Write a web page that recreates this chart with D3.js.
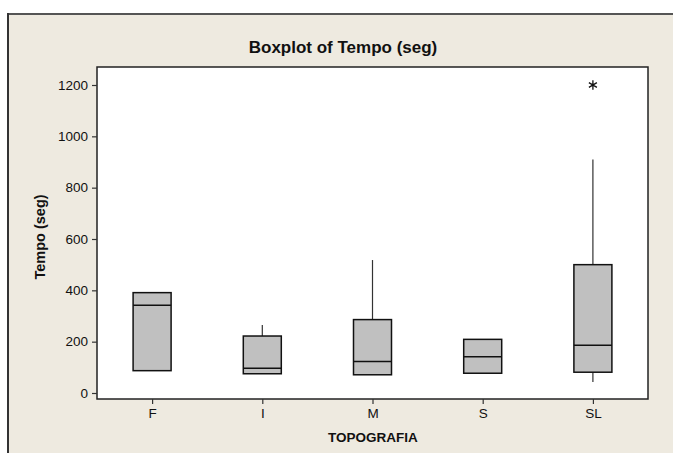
<!DOCTYPE html>
<html>
<head>
<meta charset="utf-8">
<script src="https://cdn.jsdelivr.net/npm/d3@7"></script>
<style>
  html, body { margin: 0; padding: 0; overflow: hidden; background: #fff; }
  svg { display: block; }
  text { font-family: Arial, "Liberation Sans", sans-serif; }
</style>
</head>
<body>
<svg id="chart" width="673" height="453"></svg>
<script>
// values
var categories = ['F', 'I', 'M', 'S', 'SL'];
var whiskerLow = [87, 75, 71, 77, 43];
var q1 = [87, 75, 71, 77, 81];
var medians = [342, 96, 123, 141, 186];
var q3 = [391, 222, 286, 209, 500];
var whiskerHigh = [391, 265, 518, 209, 910];
var outliers = [{ cat: 'SL', v: 1200 }];
var yTicks = [0, 200, 400, 600, 800, 1000, 1200];

var svg = d3.select('#chart');
var W = 673, H = 453;
var plot = { left: 97, right: 648, top: 67, bottom: 399 };

// outer frame (only top and left edges fall inside the picture)
svg.append('rect').attr('x', 0).attr('y', 0).attr('width', W).attr('height', H).attr('fill', '#fff');
svg.append('rect').attr('x', 8).attr('y', 14).attr('width', W - 8).attr('height', H - 14)
  .attr('fill', '#eeeae0');
svg.append('line').attr('x1', 7).attr('x2', W).attr('y1', 14).attr('y2', 14)
  .attr('stroke', '#555').attr('stroke-width', 2);
svg.append('line').attr('x1', 8).attr('x2', 8).attr('y1', 13).attr('y2', H)
  .attr('stroke', '#333').attr('stroke-width', 2);

// plot area
svg.append('rect').attr('x', plot.left).attr('y', plot.top)
  .attr('width', plot.right - plot.left).attr('height', plot.bottom - plot.top)
  .attr('fill', '#fff').attr('stroke', '#222').attr('stroke-width', 1.5);

var x = d3.scalePoint().domain(categories).range([plot.left, plot.right]).padding(0.5);
var y = d3.scaleLinear().domain([0, 1200]).range([393, 85]);

// axes
var yAxis = svg.append('g').attr('transform', 'translate(' + plot.left + ',0)')
  .call(d3.axisLeft(y).tickValues(yTicks).tickFormat(d3.format('d')).tickSize(5).tickPadding(4));
var xAxis = svg.append('g').attr('transform', 'translate(0,' + plot.bottom + ')')
  .call(d3.axisBottom(x).tickSize(5).tickPadding(4));
[yAxis, xAxis].forEach(function(a) {
  a.select('.domain').remove();
  a.selectAll('line').attr('stroke', '#333').attr('stroke-width', 1.2);
  a.selectAll('text').attr('fill', '#111').style('font-size', '13.5px');
});

// titles
svg.append('text').attr('x', 343).attr('y', 53).attr('text-anchor', 'middle')
  .style('font-size', '17px').style('font-weight', 'bold').attr('fill', '#111')
  .text('Boxplot of Tempo (seg)');
svg.append('text').attr('x', 373).attr('y', 442).attr('text-anchor', 'middle')
  .style('font-size', '13.5px').style('font-weight', 'bold').attr('fill', '#111')
  .text('TOPOGRAFIA');
svg.append('text').attr('transform', 'translate(45,237) rotate(-90)').attr('text-anchor', 'middle')
  .style('font-size', '14.5px').style('font-weight', 'bold').attr('fill', '#111')
  .text('Tempo (seg)');

// boxes
var boxW = 38;
var rows = categories.map(function(c, i) {
  return { c: c, lo: whiskerLow[i], q1: q1[i], med: medians[i], q3: q3[i], hi: whiskerHigh[i] };
});
var g = svg.append('g').selectAll('g').data(rows).enter().append('g');
g.append('line').attr('x1', function(d) { return x(d.c); }).attr('x2', function(d) { return x(d.c); })
  .attr('y1', function(d) { return y(d.q3); }).attr('y2', function(d) { return y(d.hi); })
  .attr('stroke', '#333').attr('stroke-width', 1.2);
g.append('line').attr('x1', function(d) { return x(d.c); }).attr('x2', function(d) { return x(d.c); })
  .attr('y1', function(d) { return y(d.q1); }).attr('y2', function(d) { return y(d.lo); })
  .attr('stroke', '#333').attr('stroke-width', 1.2);
g.append('rect').attr('x', function(d) { return x(d.c) - boxW / 2; })
  .attr('y', function(d) { return y(d.q3); })
  .attr('width', boxW)
  .attr('height', function(d) { return y(d.q1) - y(d.q3); })
  .attr('fill', '#c0c0c0').attr('stroke', '#111').attr('stroke-width', 1.5);
g.append('line').attr('x1', function(d) { return x(d.c) - boxW / 2; }).attr('x2', function(d) { return x(d.c) + boxW / 2; })
  .attr('y1', function(d) { return y(d.med); }).attr('y2', function(d) { return y(d.med); })
  .attr('stroke', '#111').attr('stroke-width', 1.5);

// outliers drawn as asterisks
var star = d3.symbol().type(d3.symbolAsterisk || d3.symbolCross).size(60);
svg.append('g').selectAll('path').data(outliers).enter().append('path')
  .attr('transform', function(d) { return 'translate(' + x(d.cat) + ',' + y(d.v) + ')'; })
  .attr('d', star).attr('fill', 'none').attr('stroke', '#111').attr('stroke-width', 1.3);
</script>
</body>
</html>
